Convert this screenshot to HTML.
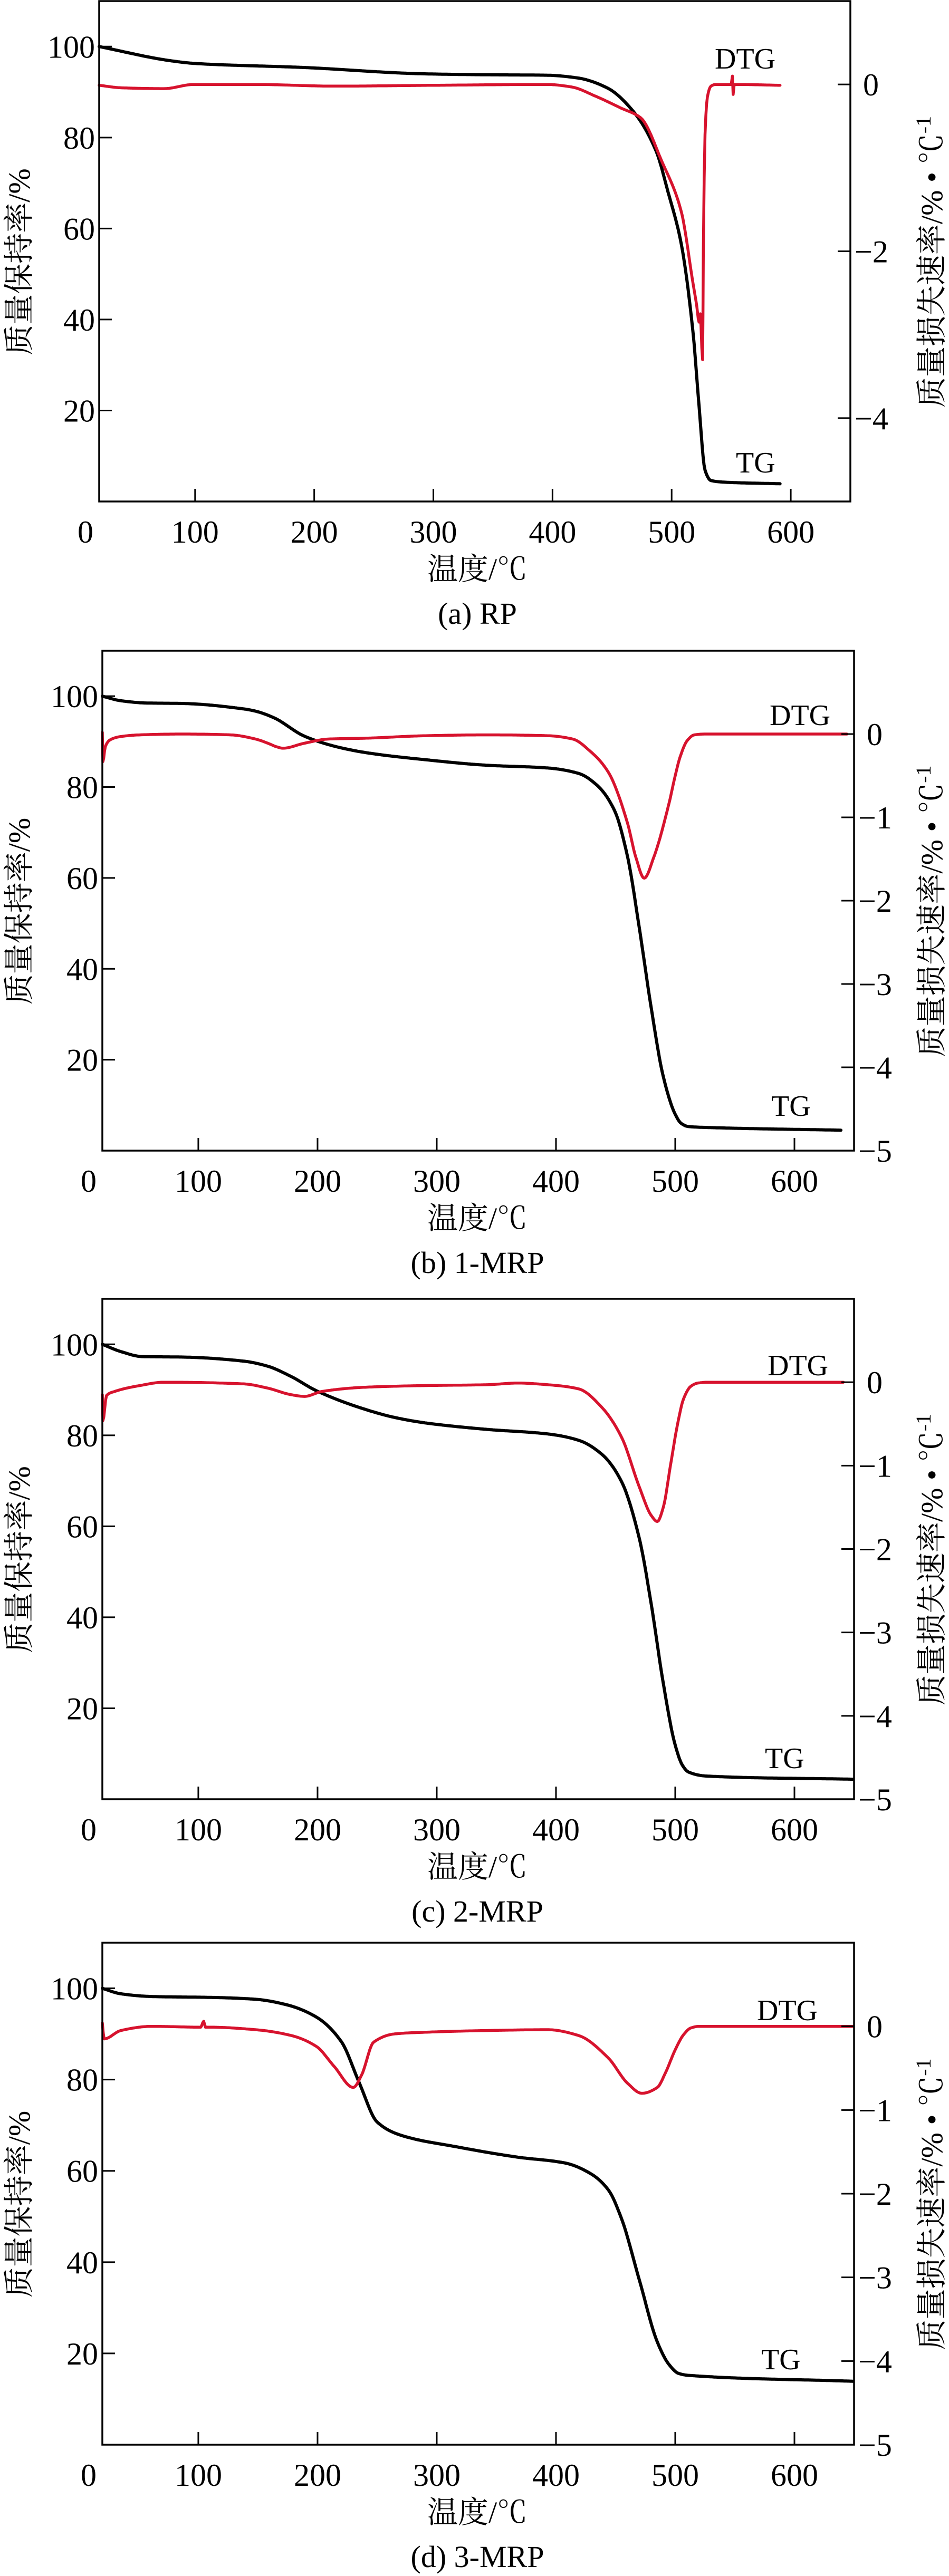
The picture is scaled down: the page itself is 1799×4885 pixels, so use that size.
<!DOCTYPE html>
<html><head><meta charset="utf-8">
<style>
html,body{margin:0;padding:0;background:#fff;}
svg{display:block;}
text{font-family:"Liberation Serif","Noto Serif CJK SC",serif;fill:#000;}
</style></head>
<body>
<svg id="fig" width="1799" height="4885" viewBox="0 0 1799 4885" xmlns="http://www.w3.org/2000/svg"></svg>
<script>
// ---- data (temperature °C, TG %, DTG %/°C) ----
const tgTempA = [19.5,79,99,191,293,344,395,421,446,467,487,497,508,518,523,528,533,548,591];
const tgValA  = [100,96.9,96.3,95.4,94,93.8,93.7,93.1,90.9,86,77,68,56.7,37,21,6.9,4.6,4.2,3.9];
const dtgTempA = [19.5,38,74,99,150,217,300,395,416,436,457,474,492,508,518,521,523,524,526,526.6,528,530,533,537,550,551,551.6,552.5,591];
const dtgValA  = [-0.01,-0.04,-0.05,0,0,-0.02,-0.01,0,-0.03,-0.14,-0.28,-0.40,-0.93,-1.52,-2.39,-2.65,-2.85,-2.75,-3.3,-2.0,-0.6,-0.15,-0.02,0,0,0.1,-0.12,0,-0.01];

const tgTempB = [19.5,35,56,86,138,148,163,189,214,240,291,342,393,419,434,449,460,470,480,490,500,505,511,526,639];
const tgValB  = [100,99,98.5,98.4,97.2,96.7,95.3,91.2,89,87.6,86,84.8,84.2,83,80.5,74.9,64.7,48.8,31.2,16.3,8,6,5.3,5.1,4.5];
const dtgTempB = [19.5,20,22,26,35,51,86,127,148,160,165,171,189,209,240,291,342,393,414,429,444,460,467,474,482,495,500,504,510,516,525,644];
const dtgValB  = [0.02,-0.33,-0.15,-0.07,-0.03,-0.01,0,-0.01,-0.06,-0.12,-0.15,-0.17,-0.11,-0.06,-0.05,-0.02,-0.01,-0.02,-0.06,-0.21,-0.46,-1.07,-1.48,-1.73,-1.48,-0.82,-0.5,-0.28,-0.08,-0.01,0,0];

const tgTempC = [19.5,35,53,86,138,158,178,199,240,265,291,342,393,419,439,455,470,480,490,500,506,511,526,649];
const tgValC  = [100,98.4,97.3,97.2,96.3,95.2,92.9,89.8,85.7,83.9,82.7,81.3,80.3,78.9,75.7,69.8,57.2,42.7,25.5,11.9,7.5,6,5.1,4.4];
const dtgTempC = [19.5,20,23,30,51,71,138,158,178,189,204,240,291,342,368,393,419,439,455,470,480,485,490,496,502,507,513,519,528,641];
const dtgValC  = [-0.15,-0.46,-0.16,-0.11,-0.04,0,-0.02,-0.07,-0.15,-0.17,-0.11,-0.06,-0.04,-0.03,-0.01,-0.03,-0.08,-0.31,-0.66,-1.26,-1.6,-1.67,-1.5,-1.0,-0.5,-0.2,-0.05,-0.01,0,0];

const tgTempD = [19.5,35,61,112,148,174,199,220,235,250,270,316,368,408,429,444,455,470,485,495,503,511,649];
const tgValD  = [100,98.8,98.2,98,97.6,96.4,93.7,88.3,79.3,70.7,67.8,65.3,63,61.7,59.4,55.8,49.5,36,22.5,17.5,15.6,15.2,13.9];
const dtgTempD = [19.5,21,35,61,102,104.5,106,109,148,178,199,214,230,237,247,265,291,342,393,419,444,460,472,485,492,500,507,513,520,649];
const dtgValD  = [0.04,-0.15,-0.05,0,-0.01,0.06,-0.01,-0.01,-0.04,-0.11,-0.24,-0.48,-0.73,-0.58,-0.19,-0.09,-0.07,-0.05,-0.04,-0.11,-0.38,-0.68,-0.8,-0.73,-0.55,-0.28,-0.1,-0.02,0,0];

const xTicks = [100,200,300,400,500,600];
const leftTicks = [20,40,60,80,100];
const rightTicksA = [0,-2,-4];
const rightTicksOther = [0,-1,-2,-3,-4,-5];

const NS = "http://www.w3.org/2000/svg";
const svg = document.getElementById('fig');
function mk(tag, attrs, parent){const e=document.createElementNS(NS,tag);for(const k in attrs)e.setAttribute(k,attrs[k]);(parent||svg).appendChild(e);return e;}
// monotone cubic (Fritsch–Carlson) in x, sampled to a polyline
function monotonePath(xsArr, ysArr){
  const n=xsArr.length, d=[], m=new Array(n);
  for(let i=0;i<n-1;i++) d.push((ysArr[i+1]-ysArr[i])/(xsArr[i+1]-xsArr[i]));
  m[0]=d[0]; m[n-1]=d[n-2];
  for(let i=1;i<n-1;i++){
    if(d[i-1]*d[i]<=0) m[i]=0;
    else { const h0=xsArr[i]-xsArr[i-1], h1=xsArr[i+1]-xsArr[i];
      const w1=2*h1+h0, w2=h1+2*h0; m[i]=(w1+w2)/(w1/d[i-1]+w2/d[i]); }
  }
  let s="M"+xsArr[0].toFixed(1)+","+ysArr[0].toFixed(1);
  for(let i=0;i<n-1;i++){
    const h=xsArr[i+1]-xsArr[i];
    const steps=Math.max(2,Math.ceil(h/2));
    for(let k=1;k<=steps;k++){
      const t=k/steps, t2=t*t, t3=t2*t;
      const y=(2*t3-3*t2+1)*ysArr[i]+(t3-2*t2+t)*h*m[i]+(-2*t3+3*t2)*ysArr[i+1]+(t3-t2)*h*m[i+1];
      s+=" L"+(xsArr[i]+t*h).toFixed(1)+","+y.toFixed(1);
    }
  }
  return s;
}

const panels = [
 {id:'a',L:188,R:1612,T:2,B:951,cap:'(a) RP',tgT:tgTempA,tgV:tgValA,dT:dtgTempA,dV:dtgValA,rt:rightTicksA,dtgLab:[1355,130],tgLab:[1395,896]},
 {id:'b',L:194,R:1619,T:1234,B:2182,cap:'(b) 1-MRP',tgT:tgTempB,tgV:tgValB,dT:dtgTempB,dV:dtgValB,rt:rightTicksOther,dtgLab:[1459,1375],tgLab:[1462,2116]},
 {id:'c',L:194,R:1619,T:2463,B:3412,cap:'(c) 2-MRP',tgT:tgTempC,tgV:tgValC,dT:dtgTempC,dV:dtgValC,rt:rightTicksOther,dtgLab:[1455,2608],tgLab:[1450,3353]},
 {id:'d',L:194,R:1619,T:3684,B:4636,cap:'(d) 3-MRP',tgT:tgTempD,tgV:tgValD,dT:dtgTempD,dV:dtgValD,rt:rightTicksOther,dtgLab:[1435,3831],tgLab:[1443,4493]}
];

panels.forEach(p=>{
  const g=mk('g',{});
  
  
  const xs=t=>p.L+(t-19.5)/(650-19.5)*(p.R-p.L);
  const yl=v=>p.B-v/110*(p.B-p.T);
  const yr=v=>p.B-(v+5)/6*(p.B-p.T);
  const tg=mk('path',{d:monotonePath(p.tgT.map(xs),p.tgV.map(yl)),fill:'none',stroke:'#000','stroke-width':6,'stroke-linejoin':'round','stroke-linecap':'round'},g);
  
  
  const dt=mk('path',{d:monotonePath(p.dT.map(xs),p.dV.map(yr)),fill:'none',stroke:'#d7132e','stroke-width':5.5,'stroke-linejoin':'round','stroke-linecap':'round'},g);
  
  
  const box=mk('rect',{x:p.L,y:p.T,width:p.R-p.L,height:p.B-p.T,fill:'none',stroke:'#000','stroke-width':3.5},g);
  
  
  xTicks.forEach(v=>{
    const x=xs(v);
    const tk=mk('line',{x1:x,x2:x,y1:p.B,y2:p.B-24,stroke:'#000','stroke-width':3},g);
    
    
    const lb=mk('text',{x:x,y:p.B+78,'font-size':60,'text-anchor':'middle'},g);
    lb.textContent=v;
    
    
  });
  const z=mk('text',{x:p.L-26,y:p.B+78,'font-size':60,'text-anchor':'middle'},g);
  z.textContent='0';
  
  
  leftTicks.forEach(v=>{
    const y=yl(v);
    const tk=mk('line',{x1:p.L,x2:p.L+24,y1:y,y2:y,stroke:'#000','stroke-width':3},g);
    
    
    const lb=mk('text',{x:p.L-8,y:y+21,'font-size':60,'text-anchor':'end'},g);
    lb.textContent=v;
    
    
  });
  p.rt.forEach(v=>{
    const y=yr(v);
    const tk=mk('line',{x1:p.R,x2:p.R-24,y1:y,y2:y,stroke:'#000','stroke-width':3},g);
    
    
    const lb=mk('text',{x:p.R+(v===0?24:8),y:y+21,'font-size':60,'text-anchor':'start'},g);
    lb.textContent=v===0?'0':'\u2212'+(-v);
    
    
  });
  const mid=(p.T+p.B)/2;
  const lt=mk('text',{x:0,y:0,'font-size':58,'text-anchor':'middle',transform:`translate(56,${mid+20}) rotate(-90)`},g);
  lt.textContent='质量保持率/%';
  
  
  const rtl=mk('text',{x:0,y:0,'font-size':58,'text-anchor':'middle',transform:`translate(1786,${mid+20}) rotate(-90)`},g);
  rtl.innerHTML='质量损失速率/% • ℃<tspan baseline-shift="super" font-size="40">-1</tspan>';
  
  
  const xt=mk('text',{x:905,y:p.B+148,'font-size':58,'text-anchor':'middle'},g);
  xt.textContent='温度/℃';
  
  
  const cp=mk('text',{x:905,y:p.B+232,'font-size':58,'text-anchor':'middle'},g);
  cp.textContent=p.cap;
  
  
  const dl=mk('text',{x:p.dtgLab[0],y:p.dtgLab[1],'font-size':56},g);
  dl.textContent='DTG';
  
  
  const tl=mk('text',{x:p.tgLab[0],y:p.tgLab[1],'font-size':56},g);
  tl.textContent='TG';
  
  
});
</script>
</body></html>
